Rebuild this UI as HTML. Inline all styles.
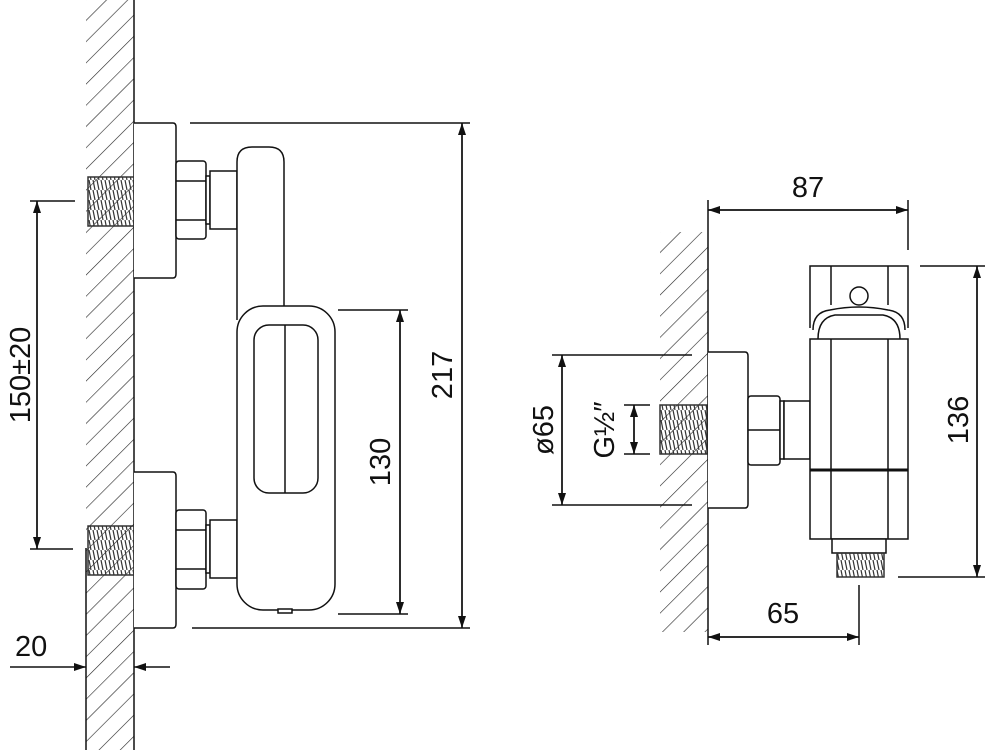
<!DOCTYPE html>
<html><head><meta charset="utf-8"><style>
html,body{margin:0;padding:0;background:#fff;}
svg{display:block;}
text{font-family:"Liberation Sans",sans-serif;font-size:29px;fill:#111;}
</style></head><body>
<svg width="992" height="750" viewBox="0 0 992 750" xmlns="http://www.w3.org/2000/svg">
<defs>
<pattern id="h" patternUnits="userSpaceOnUse" width="15" height="15" patternTransform="rotate(45)">
<line x1="0" y1="0" x2="0" y2="15" stroke="#222" stroke-width="1.2"/>
</pattern>
<pattern id="t" patternUnits="userSpaceOnUse" width="4" height="10">
<line x1="1" y1="0" x2="3" y2="10" stroke="#333" stroke-width="1.2"/>
</pattern>
<marker id="a" markerWidth="12" markerHeight="8" refX="12" refY="4" orient="auto" markerUnits="userSpaceOnUse">
<path d="M0,0 L12,4 L0,8 Z" fill="#111"/>
</marker>
</defs>
<g fill="none" stroke="#111" stroke-width="1.5">
<rect x="86" y="0" width="48" height="750" fill="url(#h)" stroke="none"/>
<line x1="134" y1="0" x2="134" y2="750"/>
<line x1="86" y1="548" x2="86" y2="750"/>
<rect x="88" y="177" width="46" height="49" fill="url(#t)" stroke="#333"/>
<rect x="88" y="526" width="46" height="49" fill="url(#t)" stroke="#333"/>
<path d="M134,123 H173 Q176,123 176,127 V274 Q176,278 173,278 H134" fill="#fff"/>
<rect x="176" y="161" width="30" height="78" rx="3" fill="#fff"/>
<line x1="176" y1="181" x2="206" y2="181"/><line x1="176" y1="220" x2="206" y2="220"/>
<rect x="206" y="176" width="4" height="48" fill="#fff"/>
<rect x="210" y="171" width="27" height="58" fill="#fff"/>
<path d="M134,472 H173 Q176,472 176,476 V624 Q176,628 173,628 H134" fill="#fff"/>
<rect x="176" y="510" width="30" height="79" rx="3" fill="#fff"/>
<line x1="176" y1="530" x2="206" y2="530"/><line x1="176" y1="569" x2="206" y2="569"/>
<rect x="206" y="525" width="4" height="48" fill="#fff"/>
<rect x="210" y="520" width="27" height="58" fill="#fff"/>
<path d="M237,320 V162 Q237,147 252,147 H269 Q284,147 284,162 V320" fill="#fff"/>
<rect x="237" y="306" width="98" height="304" rx="26" fill="#fff"/>
<rect x="254" y="325" width="64" height="168" rx="15"/>
<line x1="285" y1="325" x2="285" y2="493"/>
<rect x="278" y="609" width="14" height="4" fill="#fff"/>
<line x1="190" y1="123" x2="470" y2="123"/>
<line x1="192" y1="628" x2="470" y2="628"/>
<line x1="462" y1="123" x2="462" y2="628" marker-end="url(#a)"/>
<line x1="462" y1="628" x2="462" y2="123" marker-end="url(#a)"/>
<line x1="338" y1="310" x2="408" y2="310"/>
<line x1="338" y1="614" x2="408" y2="614"/>
<line x1="400" y1="310" x2="400" y2="614" marker-end="url(#a)"/>
<line x1="400" y1="614" x2="400" y2="310" marker-end="url(#a)"/>
<line x1="30" y1="201" x2="75" y2="201"/>
<line x1="30" y1="549" x2="73" y2="549"/>
<line x1="37" y1="201" x2="37" y2="549" marker-end="url(#a)"/>
<line x1="37" y1="549" x2="37" y2="201" marker-end="url(#a)"/>
<line x1="10" y1="667" x2="86" y2="667" marker-end="url(#a)"/>
<line x1="170" y1="667" x2="134" y2="667" marker-end="url(#a)"/>

<rect x="660" y="232" width="48" height="400" fill="url(#h)" stroke="none"/>
<line x1="708" y1="200" x2="708" y2="645"/>
<rect x="660" y="405" width="47" height="49" fill="url(#t)" stroke="#333"/>
<path d="M708,352 H745 Q748,352 748,356 V504 Q748,508 745,508 H708" fill="#fff"/>
<rect x="748" y="396" width="32" height="69" rx="3" fill="#fff"/>
<line x1="748" y1="430" x2="780" y2="430"/>
<rect x="780" y="401" width="4" height="58" fill="#fff"/>
<rect x="784" y="401" width="26" height="58" fill="#fff"/>
<path d="M810,328 V266 H908 V328"/>
<line x1="831" y1="266" x2="831" y2="305"/><line x1="888" y1="266" x2="888" y2="305"/>
<circle cx="859" cy="296" r="9"/>
<path d="M813,330 Q813,312 830,310 Q859,304 888,310 Q905,312 905,330" fill="#fff"/>
<path d="M818,339 Q818,318 835,315 L883,315 Q900,318 900,339" fill="#fff"/>
<rect x="810" y="339" width="98" height="200" fill="#fff"/>
<line x1="831" y1="339" x2="831" y2="539"/><line x1="888" y1="339" x2="888" y2="539"/>
<line x1="810" y1="470" x2="908" y2="470" stroke-width="3"/>
<rect x="832" y="539" width="54" height="14" fill="#fff"/>
<rect x="837" y="553" width="47" height="24" fill="url(#t)" stroke="#333"/>
<line x1="908" y1="200" x2="908" y2="250"/>
<line x1="708" y1="210" x2="908" y2="210" marker-end="url(#a)"/>
<line x1="908" y1="210" x2="708" y2="210" marker-end="url(#a)"/>
<line x1="920" y1="266" x2="985" y2="266"/>
<line x1="898" y1="577" x2="985" y2="577"/>
<line x1="977" y1="266" x2="977" y2="577" marker-end="url(#a)"/>
<line x1="977" y1="577" x2="977" y2="266" marker-end="url(#a)"/>
<line x1="859" y1="585" x2="859" y2="645"/>
<line x1="708" y1="637" x2="859" y2="637" marker-end="url(#a)"/>
<line x1="859" y1="637" x2="708" y2="637" marker-end="url(#a)"/>
<line x1="552" y1="355" x2="692" y2="355"/>
<line x1="552" y1="505" x2="692" y2="505"/>
<line x1="562" y1="355" x2="562" y2="505" marker-end="url(#a)"/>
<line x1="562" y1="505" x2="562" y2="355" marker-end="url(#a)"/>
<line x1="624" y1="405" x2="650" y2="405"/>
<line x1="624" y1="454" x2="650" y2="454"/>
<line x1="634" y1="405" x2="634" y2="454" marker-end="url(#a)"/>
<line x1="634" y1="454" x2="634" y2="405" marker-end="url(#a)"/>
</g>
<text x="15" y="656">20</text>
<text transform="translate(30,375) rotate(-90)" text-anchor="middle">150±20</text>
<text transform="translate(452,375) rotate(-90)" text-anchor="middle">217</text>
<text transform="translate(390,462) rotate(-90)" text-anchor="middle">130</text>
<text x="808" y="197" text-anchor="middle">87</text>
<text transform="translate(968,420) rotate(-90)" text-anchor="middle">136</text>
<text x="783" y="623" text-anchor="middle">65</text>
<text transform="translate(553,430) rotate(-90)" text-anchor="middle">ø65</text>
<text transform="translate(614,430) rotate(-90)" text-anchor="middle">G½″</text>
</svg>
</body></html>
